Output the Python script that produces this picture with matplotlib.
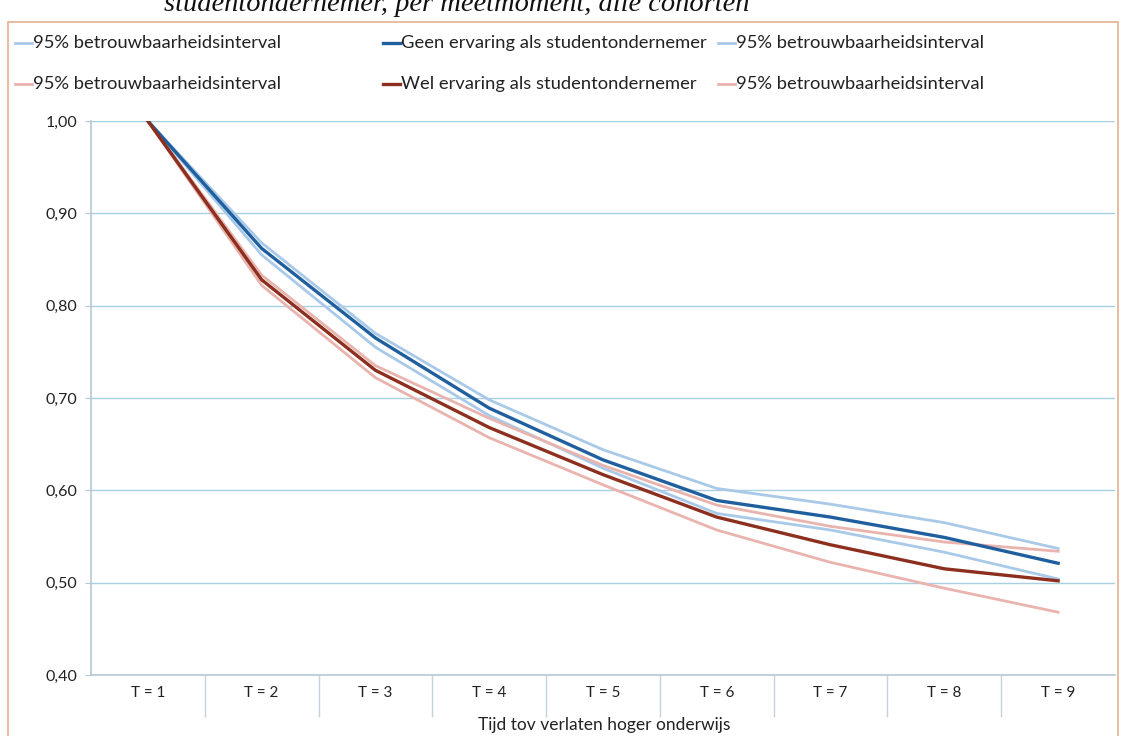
import matplotlib
matplotlib.use("Agg")
import matplotlib.pyplot as plt
from matplotlib.patches import Rectangle
from matplotlib.lines import Line2D
from matplotlib.ticker import FixedLocator, FuncFormatter

categories = ["T = 1", "T = 2", "T = 3", "T = 4", "T = 5", "T = 6", "T = 7", "T = 8", "T = 9"]
geen_upper = [1.00, 0.868, 0.770, 0.698, 0.644, 0.602, 0.585, 0.565, 0.537]
geen_main = [1.00, 0.862, 0.765, 0.689, 0.633, 0.589, 0.571, 0.549, 0.521]
geen_lower = [1.00, 0.855, 0.755, 0.681, 0.624, 0.575, 0.557, 0.533, 0.504]
wel_upper = [1.00, 0.833, 0.735, 0.678, 0.627, 0.584, 0.561, 0.544, 0.534]
wel_main = [1.00, 0.828, 0.730, 0.668, 0.617, 0.571, 0.541, 0.515, 0.502]
wel_lower = [1.00, 0.822, 0.722, 0.657, 0.606, 0.557, 0.522, 0.494, 0.468]
y_ticks = [0.40, 0.50, 0.60, 0.70, 0.80, 0.90, 1.00]

title = "studentondernemer, per meetmoment, alle cohorten"
xlabel = "Tijd tov verlaten hoger onderwijs"
ci_label = "95% betrouwbaarheidsinterval"
geen_label = "Geen ervaring als studentondernemer"
wel_label = "Wel ervaring als studentondernemer"

BLUE = "#1f5f9e"
BLUE_CI = "#a9c9e8"
RED = "#8c2f1e"
RED_CI = "#e9b3ae"
GRID = "#a9cfe2"
TXT = "#222222"
FONT = ["Lato", "DejaVu Sans"]

W, H = 1121, 736
fig = plt.figure(figsize=(W / 100, H / 100), dpi=100)
fig.patch.set_facecolor("white")

# outer frame
fig.patches.append(Rectangle((8 / W, -0.01), (1118 - 8) / W, 1 - 22 / H + 0.01,
                             transform=fig.transFigure, fill=False,
                             edgecolor="#e7b08e", linewidth=1.2))

fig.text(457 / W, 1 - 11 / H, title, ha="center", va="baseline",
         fontsize=20.5, style="italic", family=["Liberation Serif", "DejaVu Serif"],
         color="#111111")

ax = fig.add_axes([91 / W, 1 - 675 / H, (1115 - 91) / W, (675 - 121) / H])
x = list(range(len(categories)))

ax.plot(x, geen_upper, color=BLUE_CI, lw=2.0, zorder=3)
ax.plot(x, geen_lower, color=BLUE_CI, lw=2.0, zorder=3)
ax.plot(x, wel_upper, color=RED_CI, lw=2.0, zorder=3)
ax.plot(x, wel_lower, color=RED_CI, lw=2.0, zorder=3)
ax.plot(x, geen_main, color=BLUE, lw=2.4, zorder=4)
ax.plot(x, wel_main, color=RED, lw=2.4, zorder=4)

ax.set_xlim(-0.5, len(categories) - 0.5)
ax.set_ylim(0.40, 1.00)
ax.yaxis.set_major_locator(FixedLocator(y_ticks))
ax.yaxis.set_major_formatter(FuncFormatter(lambda v, p: f"{v:.2f}".replace(".", ",")))
for v in y_ticks[1:]:
    ax.axhline(v, color=GRID, lw=1.0, zorder=1)

ax.set_xticks(x)
ax.set_xticklabels(categories, fontsize=11, family=FONT, color=TXT)
ax.set_xticks([i + 0.5 for i in x[:-1]], minor=True)
ax.tick_params(axis="x", which="major", length=0, pad=8)
ax.tick_params(axis="x", which="minor", length=30, color="#c5d3dc", width=1)
ax.tick_params(axis="y", which="major", length=4, color="#b5c8d6", labelsize=11.5,
               labelcolor=TXT, pad=6)
for lab in ax.get_yticklabels():
    lab.set_family(FONT)

for s in ["top", "right"]:
    ax.spines[s].set_visible(False)
ax.spines["left"].set_color("#b5c8d6")
ax.spines["bottom"].set_color("#b5c8d6")
ax.spines["left"].set_linewidth(1.2)
ax.spines["bottom"].set_linewidth(1.2)

fig.text(604 / W, 1 - 725 / H, xlabel, ha="center", va="center",
         fontsize=12.5, family=FONT, color=TXT)

# legend drawn as figure-level entries
rows = [[(ci_label, BLUE_CI), (geen_label, BLUE), (ci_label, BLUE_CI)],
        [(ci_label, RED_CI), (wel_label, RED), (ci_label, RED_CI)]]
col_x = [15, 383, 718]
row_y = [43, 84]
for r, row in enumerate(rows):
    for c, (lab, col) in enumerate(row):
        y = 1 - row_y[r] / H
        x0 = col_x[c] / W
        lw = 2.4 if col in (BLUE, RED) else 2.0
        fig.lines.append(Line2D([x0, x0 + 17 / W], [y, y], color=col, lw=lw,
                                transform=fig.transFigure))
        fig.text(x0 + 18 / W, y, lab, ha="left", va="center", fontsize=13.2,
                 family=FONT, color=TXT)

fig.savefig("out.png", dpi=100, facecolor="white")
